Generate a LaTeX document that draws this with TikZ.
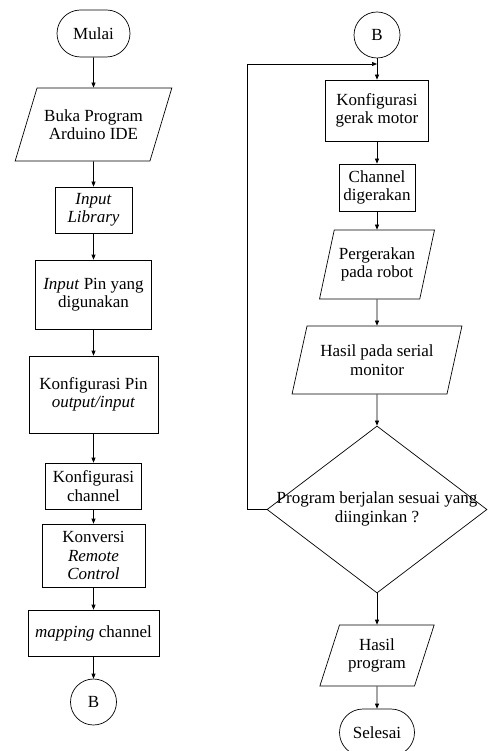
\documentclass[tikz,border=0pt]{standalone}
\usepackage{fontspec}
\setmainfont{Liberation Serif}
\usetikzlibrary{arrows.meta}
\usetikzlibrary{shapes.geometric}
\usetikzlibrary{shapes.misc}

\begin{document}
\begin{tikzpicture}[x=1pt, y=-1pt, line width=0.7pt,
    every node/.style={font=\fontsize{17}{18.5}\selectfont, align=center, inner sep=2pt},
    terminal/.style={draw, rounded rectangle, minimum height=47pt},
    proses/.style={draw, rectangle},
    dataio/.style={draw, trapezium, trapezium left angle=#1, trapezium right angle=180-#1, trapezium stretches=true},
    konektor/.style={draw, circle, minimum size=46pt},
    keputusan/.style={draw, diamond},
    panah/.style={-{Triangle[length=5pt, width=4pt]}}]
    \useasboundingbox (0,0) rectangle (487,751);
    % kolom kiri
    \node[terminal, minimum width=77pt] (mulai) at (93.5,33.5) {Mulai};
    \node[dataio=60, minimum width=157pt, minimum height=73pt] (buka) at (93.5,124.5) {Buka Program\\Arduino IDE};
    \node[proses, minimum width=77pt, minimum height=46pt] (lib) at (93.5,210) {\textit{Input}\\\textit{Library}};
    \node[proses, minimum width=116pt, minimum height=69pt] (pin) at (93.5,294.5) {\textit{Input} Pin yang\\digunakan};
    \node[proses, minimum width=129pt, minimum height=77pt] (konfpin) at (93.5,394.5) {Konfigurasi Pin\\\textit{output/input}};
    \node[proses, minimum width=96pt, minimum height=46pt] (konfch) at (93.5,486) {Konfigurasi\\channel};
    \node[proses, minimum width=103pt, minimum height=63pt] (konv) at (93.5,555.5) {Konversi\\\textit{Remote}\\\textit{Control}};
    \node[proses, minimum width=131pt, minimum height=46pt] (map) at (93.5,633) {\textit{mapping} channel};
    \node[konektor] (bkiri) at (93.5,702) {B};
    % kolom kanan
    \node[konektor] (bkanan) at (377,35) {B};
    \node[proses, minimum width=103pt, minimum height=61pt] (gerak) at (377,110.5) {Konfigurasi\\gerak motor};
    \node[proses, minimum width=76pt, minimum height=47pt] (chan) at (377,187.5) {Channel\\digerakan};
    \node[dataio=70, minimum width=115pt, minimum height=69pt] (robot) at (377,264.5) {Pergerakan\\pada robot};
    \node[dataio=70, minimum width=170pt, minimum height=68pt] (serial) at (377,360) {Hasil pada serial\\monitor};
    \node[keputusan, minimum width=220pt, minimum height=167pt] (cek) at (377,509.5)
        {\makebox[0pt]{\begin{tabular}{@{}c@{}}Program berjalan sesuai yang\\diinginkan ?\end{tabular}}};
    \node[dataio=67, minimum width=115pt, minimum height=61pt] (hasil) at (377,655.5) {Hasil\\program};
    \node[terminal, minimum width=79pt] (selesai) at (377,732.5) {Selesai};
    \coordinate (balik) at (247,64);
    \coordinate (gabung) at (377,64);
    % panah
    \draw[panah] (mulai) -- (buka);
    \draw[panah] (buka) -- (lib);
    \draw[panah] (lib) -- (pin);
    \draw[panah] (pin) -- (konfpin);
    \draw[panah] (konfpin) -- (konfch);
    \draw[panah] (konfch) -- (konv);
    \draw[panah] (konv) -- (map);
    \draw[panah] (map) -- (bkiri);
    \draw[panah] (bkanan) -- (gerak);
    \draw[panah] (gerak) -- (chan);
    \draw[panah] (chan) -- (robot);
    \draw[panah] (robot) -- (serial);
    \draw[panah] (serial) -- (cek);
    \draw[panah] (cek) -- (hasil);
    \draw[panah] (hasil) -- (selesai);
    \draw[panah] (cek.west) -| (balik) -- (gabung);
\end{tikzpicture}
\end{document}
